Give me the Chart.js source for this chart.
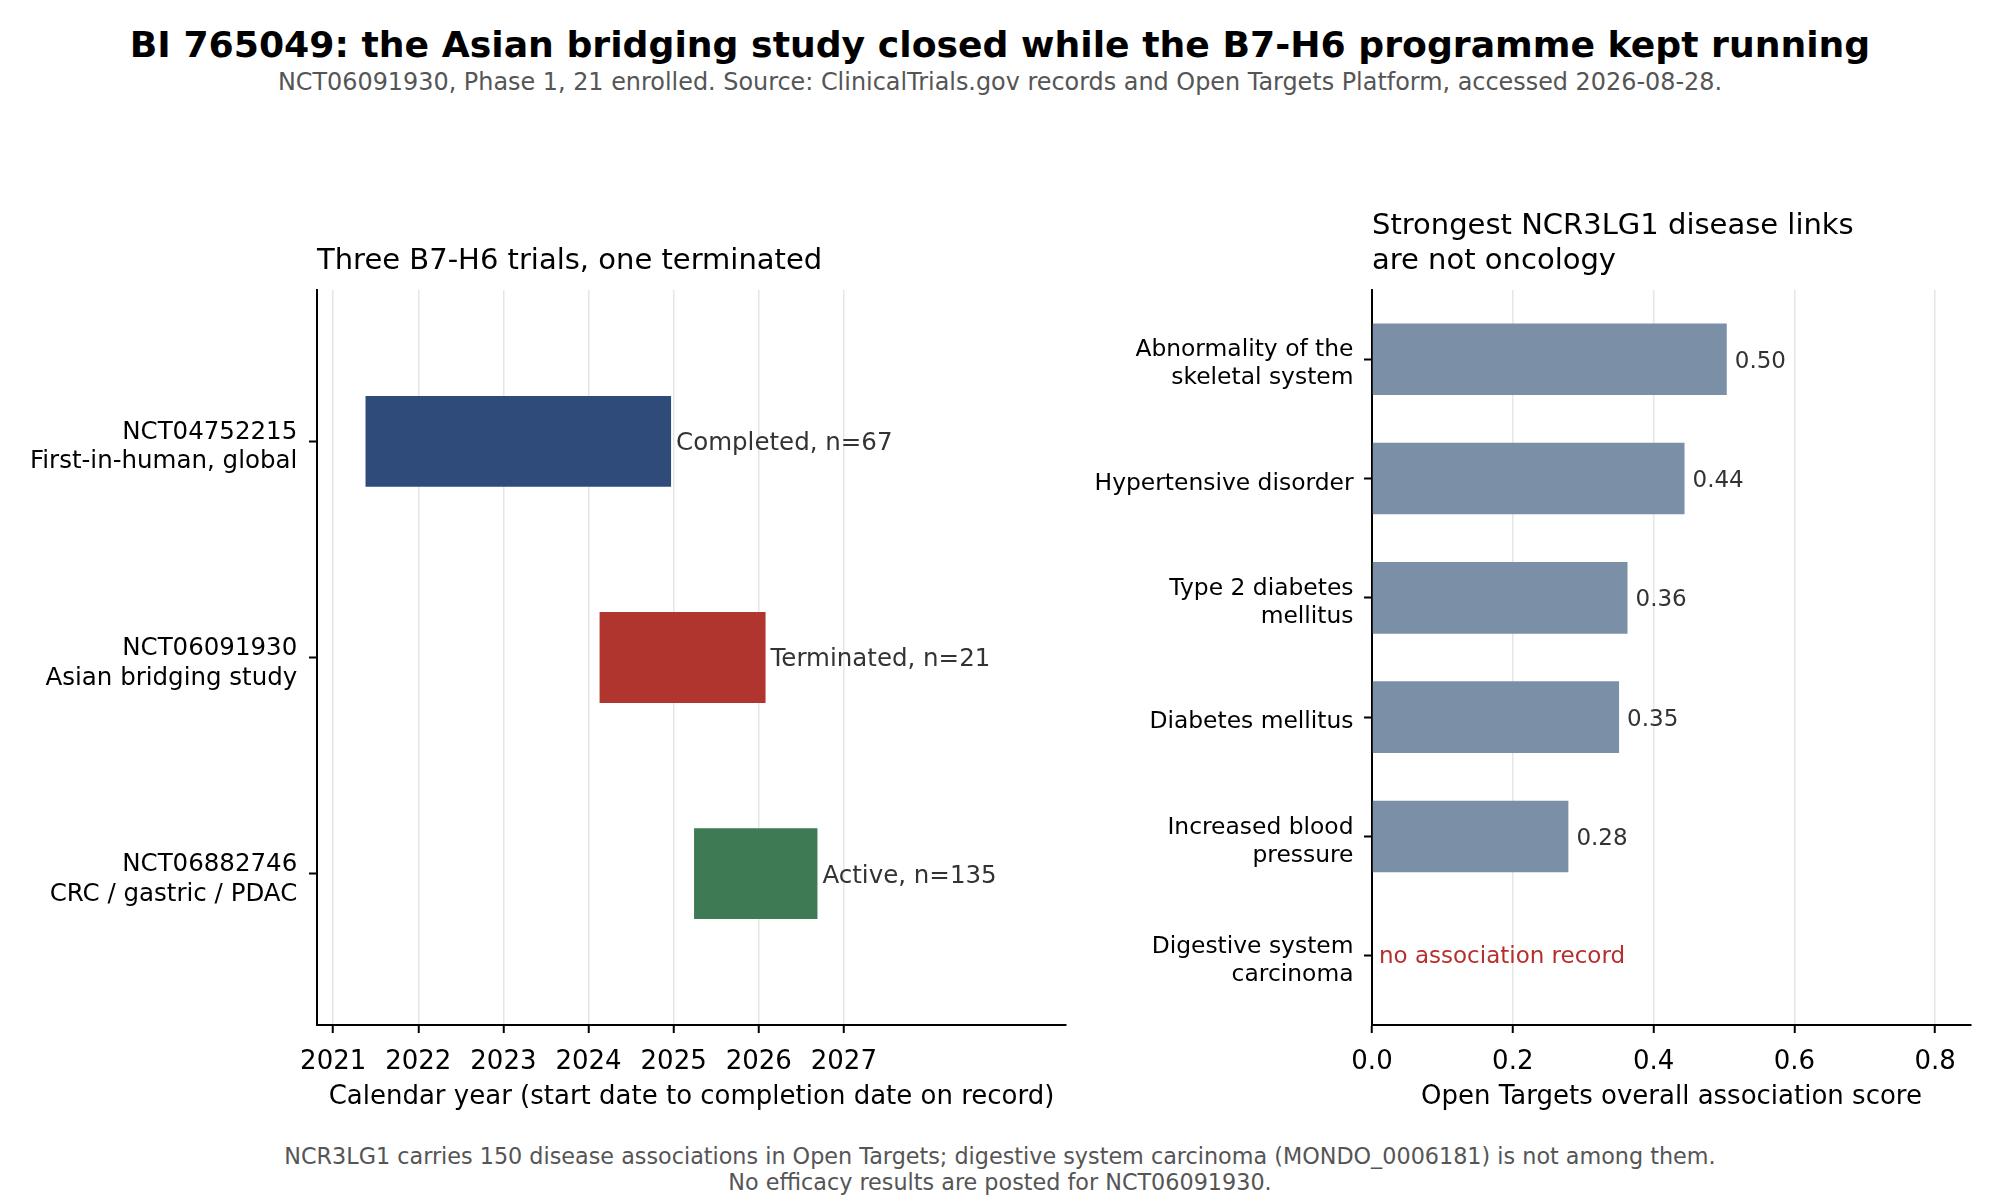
<!DOCTYPE html>
<html>
<head>
<meta charset="utf-8">
<script src="https://cdn.jsdelivr.net/npm/chart.js@4.4.1/dist/chart.umd.min.js"></script>
<style>
  html, body { margin: 0; padding: 0; background: #fff; }
  body { width: 2000px; height: 1200px; position: relative; overflow: hidden; font-family: 'DejaVu Sans', sans-serif; }
  .txt { position: absolute; left: 0; width: 2000px; text-align: center; white-space: nowrap; }
  #title { top: 27px; font-size: 36.2px; line-height: 36px; font-weight: bold; color: #000; }
  #subtitle { top: 69.5px; font-size: 23.9px; line-height: 24px; color: #555; }
  #footer { top: 1144.3px; font-size: 22.3px; line-height: 25.5px; color: #555; }
  canvas { position: absolute; }
  #trials { left: 0; top: 150px; }
  #links { left: 1090px; top: 150px; }
</style>
</head>
<body>
<div id="title" class="txt">BI 765049: the Asian bridging study closed while the B7-H6 programme kept running</div>
<div id="subtitle" class="txt">NCT06091930, Phase 1, 21 enrolled. Source: ClinicalTrials.gov records and Open Targets Platform, accessed 2026-08-28.</div>
<div id="footer" class="txt">NCR3LG1 carries 150 disease associations in Open Targets; digestive system carcinoma (MONDO_0006181) is not among them.<br>No efficacy results are posted for NCT06091930.</div>
<canvas id="trials" width="1090" height="1000"></canvas>
<canvas id="links" width="910" height="1000"></canvas>
<script>
// left panel: trial timelines
const trialIds = ['NCT04752215', 'NCT06091930', 'NCT06882746'];
const trialDesc = ['First-in-human, global', 'Asian bridging study', 'CRC / gastric / PDAC'];
const trialStart = [2021.38, 2024.13, 2025.24];
const trialEnd = [2024.97, 2026.08, 2026.69];
const trialStatus = ['Completed', 'Terminated', 'Active'];
const trialEnrolled = [67, 21, 135];
const trialColors = ['#2f4b7a', '#b0352f', '#3e7b54'];
const yearTicks = [2021, 2022, 2023, 2024, 2025, 2026, 2027];

// right panel: Open Targets association scores
const diseaseLabels = ['Abnormality of the\nskeletal system', 'Hypertensive disorder', 'Type 2 diabetes\nmellitus',
    'Diabetes mellitus', 'Increased blood\npressure', 'Digestive system\ncarcinoma'];
const diseaseScores = [0.504, 0.444, 0.363, 0.351, 0.279, null];
const scoreTicks = [0, 0.2, 0.4, 0.6, 0.8];

Chart.defaults.font.family = "'DejaVu Sans', sans-serif";
Chart.defaults.color = '#000';
Chart.defaults.animation = false;

// draws the text annotations next to the bars
const barText = {
    id: 'barText',
    afterDatasetsDraw(chart, args, opts) {
        const ctx = chart.ctx;
        const meta = chart.getDatasetMeta(0);
        ctx.save();
        ctx.font = opts.size + "px 'DejaVu Sans'";
        ctx.textBaseline = 'middle';
        ctx.textAlign = 'left';
        opts.texts.forEach((t, i) => {
            const el = meta.data[i];
            let x, y;
            if (opts.values[i] !== null && el && !isNaN(el.x)) {
                x = el.x + opts.gap;
                y = el.y + opts.dy;
                ctx.fillStyle = opts.color;
            } else {
                x = chart.scales.x.getPixelForValue(0) + opts.emptyGap;
                y = chart.scales.y.getPixelForValue(i) + opts.dy - 1;
                ctx.fillStyle = opts.emptyColor;
            }
            ctx.fillText(t, x, y);
        });
        ctx.restore();
    }
};

function fixedTicks(list) {
    return function (scale) {
        scale.ticks = list.map(v => ({ value: v }));
    };
}

new Chart(document.getElementById('trials'), {
    type: 'bar',
    data: {
        datasets: [{
            data: trialIds.map((id, i) => ({ x: [trialStart[i], trialEnd[i]], y: i })),
            backgroundColor: trialColors,
            borderWidth: 0,
            borderSkipped: false,
            barPercentage: 0.42,
            categoryPercentage: 1
        }]
    },
    options: {
        indexAxis: 'y',
        responsive: false,
        devicePixelRatio: 1,
        layout: { padding: { left: 0, right: 24, top: 0, bottom: 0 } },
        plugins: {
            legend: { display: false },
            tooltip: { enabled: false },
            title: {
                display: true,
                text: 'Three B7-H6 trials, one terminated',
                align: 'start',
                fullSize: false,
                color: '#000',
                font: { size: 29, weight: 'normal', lineHeight: 1.2 },
                padding: { top: 93.6, bottom: 11.6 }
            },
            barText: {
                size: 24.5, gap: 5, emptyGap: 7, dy: 2.5, color: '#333', emptyColor: '#b5302c',
                values: trialEnd,
                texts: trialStatus.map((s, i) => s + ', n=' + trialEnrolled[i])
            }
        },
        scales: {
            x: {
                type: 'linear',
                min: 2020.81,
                max: 2029.61,
                afterBuildTicks: fixedTicks(yearTicks),
                afterFit(scale) { scale.height = 125; },
                grid: { color: '#e6e6e6', lineWidth: 1.5, tickColor: '#000', tickWidth: 2, tickLength: 8 },
                border: { display: true, color: '#000', width: 2 },
                ticks: { font: { size: 26 }, color: '#000', padding: 13.3, maxRotation: 0, autoSkip: false, callback: v => String(v) },
                title: {
                    display: true,
                    text: 'Calendar year (start date to completion date on record)',
                    color: '#000',
                    font: { size: 26 },
                    padding: { top: 0, bottom: 37.4 }
                }
            },
            y: {
                type: 'linear',
                min: -0.7,
                max: 2.7,
                reverse: true,
                offset: false,
                afterBuildTicks: fixedTicks([0, 1, 2]),
                afterFit(scale) { scale.width = 317; },
                grid: { offset: false, drawOnChartArea: false, tickColor: '#000', tickWidth: 2, tickLength: 8 },
                border: { display: true, color: '#000', width: 2 },
                ticks: { font: { size: 24.5 }, color: '#000', padding: 11.7, labelOffset: 6, autoSkip: false,
                    callback: v => [trialIds[v], trialDesc[v]] }
            }
        }
    },
    plugins: [barText]
});

new Chart(document.getElementById('links'), {
    type: 'bar',
    data: {
        datasets: [{
            data: diseaseScores.map((s, i) => ({ x: s, y: i })),
            backgroundColor: '#7b8fa7',
            borderWidth: 0,
            borderSkipped: false,
            barPercentage: 0.6,
            categoryPercentage: 1
        }]
    },
    options: {
        indexAxis: 'y',
        responsive: false,
        devicePixelRatio: 1,
        layout: { padding: { left: 0, right: 29, top: 0, bottom: 0 } },
        plugins: {
            legend: { display: false },
            tooltip: { enabled: false },
            title: {
                display: true,
                text: ['Strongest NCR3LG1 disease links', 'are not oncology'],
                align: 'start',
                fullSize: false,
                color: '#000',
                font: { size: 29, weight: 'normal', lineHeight: 1.2 },
                padding: { top: 58.8, bottom: 11.6 }
            },
            barText: {
                size: 23, gap: 8, emptyGap: 7, dy: 2.5, color: '#333', emptyColor: '#b5302c',
                values: diseaseScores,
                texts: diseaseScores.map(s => s === null ? 'no association record' : s.toFixed(2))
            }
        },
        scales: {
            x: {
                type: 'linear',
                min: 0,
                max: 0.851,
                afterBuildTicks: fixedTicks(scoreTicks),
                afterFit(scale) { scale.height = 125; },
                grid: { color: '#e6e6e6', lineWidth: 1.5, tickColor: '#000', tickWidth: 2, tickLength: 8 },
                border: { display: true, color: '#000', width: 2 },
                ticks: { font: { size: 26 }, color: '#000', padding: 13.3, maxRotation: 0, autoSkip: false, callback: v => v.toFixed(1) },
                title: {
                    display: true,
                    text: 'Open Targets overall association score',
                    color: '#000',
                    font: { size: 26 },
                    padding: { top: 0, bottom: 37.4 }
                }
            },
            y: {
                type: 'linear',
                min: -0.58,
                max: 5.58,
                reverse: true,
                offset: false,
                afterBuildTicks: fixedTicks([0, 1, 2, 3, 4, 5]),
                afterFit(scale) { scale.width = 282; },
                grid: { offset: false, drawOnChartArea: false, tickColor: '#000', tickWidth: 2, tickLength: 8 },
                border: { display: true, color: '#000', width: 2 },
                ticks: { font: { size: 23.4 }, color: '#000', padding: 10.5, labelOffset: 5, autoSkip: false,
                    callback: v => diseaseLabels[v].split('\n') }
            }
        }
    },
    plugins: [barText]
});
</script>
</body>
</html>
